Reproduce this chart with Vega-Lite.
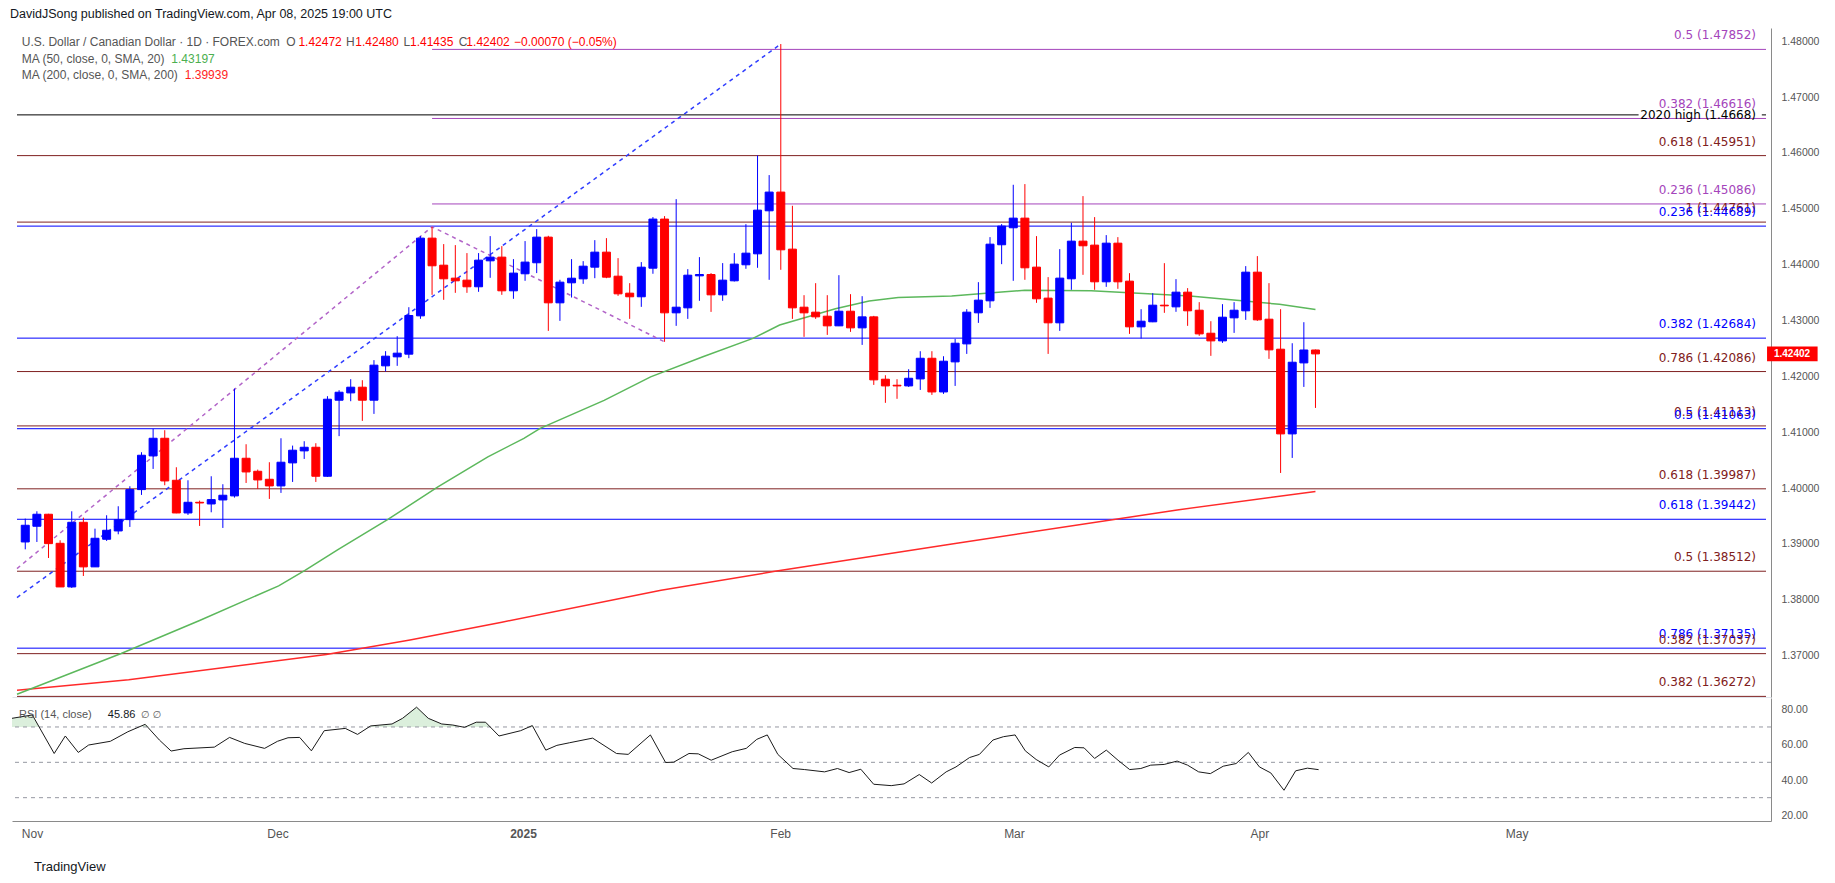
{
"$schema": "https://vega.github.io/schema/vega-lite/v6.json",
"background": "#ffffff",
"padding": {"left": 10, "top": 7, "right": 14, "bottom": 8},
"title": {"text": "DavidJSong published on TradingView.com, Apr 08, 2025 19:00 UTC", "anchor": "start", "font": "Liberation Sans", "fontSize": 12.5, "fontWeight": "normal", "color": "#131722", "offset": 8},
"config": {"view": {"stroke": null}, "axis": {"grid": false, "title": null}},
"spacing": 0,
"datasets": {
"candles": [
{"i":0,"o":1.39036,"h":1.39454,"l":1.38904,"c":1.39335},
{"i":1,"o":1.39317,"h":1.39585,"l":1.39036,"c":1.39532},
{"i":2,"o":1.39532,"h":1.3954,"l":1.38749,"c":1.39006},
{"i":3,"o":1.39012,"h":1.39066,"l":1.3823,"c":1.38231},
{"i":4,"o":1.38231,"h":1.39585,"l":1.38213,"c":1.39388},
{"i":5,"o":1.39388,"h":1.39472,"l":1.38427,"c":1.3859},
{"i":6,"o":1.3859,"h":1.39274,"l":1.38588,"c":1.39102},
{"i":7,"o":1.39084,"h":1.39514,"l":1.39054,"c":1.39245},
{"i":8,"o":1.39233,"h":1.39675,"l":1.39173,"c":1.39436},
{"i":9,"o":1.39436,"h":1.40033,"l":1.39305,"c":1.39973},
{"i":10,"o":1.39973,"h":1.40642,"l":1.39878,"c":1.40588},
{"i":11,"o":1.40576,"h":1.41059,"l":1.40343,"c":1.40892},
{"i":12,"o":1.40892,"h":1.41036,"l":1.40051,"c":1.40128},
{"i":13,"o":1.4014,"h":1.40373,"l":1.3955,"c":1.39555},
{"i":14,"o":1.39555,"h":1.4014,"l":1.3952,"c":1.39746},
{"i":15,"o":1.39746,"h":1.39776,"l":1.39323,"c":1.39734},
{"i":16,"o":1.39716,"h":1.40212,"l":1.39567,"c":1.39794},
{"i":17,"o":1.39788,"h":1.40069,"l":1.39287,"c":1.39872},
{"i":18,"o":1.3986,"h":1.41782,"l":1.3983,"c":1.40534},
{"i":19,"o":1.40534,"h":1.40785,"l":1.40092,"c":1.40289},
{"i":20,"o":1.40301,"h":1.40331,"l":1.39985,"c":1.40146},
{"i":21,"o":1.40158,"h":1.40463,"l":1.39806,"c":1.40039},
{"i":22,"o":1.40039,"h":1.40892,"l":1.39914,"c":1.40463},
{"i":23,"o":1.40451,"h":1.40761,"l":1.4011,"c":1.40678},
{"i":24,"o":1.40666,"h":1.40839,"l":1.40522,"c":1.40731},
{"i":25,"o":1.40731,"h":1.40803,"l":1.4011,"c":1.40212},
{"i":26,"o":1.40212,"h":1.41645,"l":1.402,"c":1.41591},
{"i":27,"o":1.41573,"h":1.41752,"l":1.4093,"c":1.41716},
{"i":28,"o":1.41704,"h":1.41949,"l":1.41555,"c":1.41806},
{"i":29,"o":1.41806,"h":1.41931,"l":1.41203,"c":1.41573},
{"i":30,"o":1.41573,"h":1.4229,"l":1.41328,"c":1.422},
{"i":31,"o":1.42188,"h":1.42451,"l":1.42087,"c":1.42361},
{"i":32,"o":1.42349,"h":1.42719,"l":1.42188,"c":1.42415},
{"i":33,"o":1.42397,"h":1.43238,"l":1.42325,"c":1.43089},
{"i":34,"o":1.43083,"h":1.4451,"l":1.4303,"c":1.44474},
{"i":35,"o":1.44474,"h":1.44677,"l":1.43459,"c":1.43979},
{"i":36,"o":1.4399,"h":1.44367,"l":1.4337,"c":1.43746},
{"i":37,"o":1.43758,"h":1.44349,"l":1.43495,"c":1.4371},
{"i":38,"o":1.43722,"h":1.44206,"l":1.43495,"c":1.43603},
{"i":39,"o":1.43603,"h":1.44206,"l":1.43513,"c":1.4408},
{"i":40,"o":1.44068,"h":1.4451,"l":1.43764,"c":1.44134},
{"i":41,"o":1.44134,"h":1.44331,"l":1.43459,"c":1.43531},
{"i":42,"o":1.43531,"h":1.44098,"l":1.43388,"c":1.43848},
{"i":43,"o":1.43836,"h":1.44421,"l":1.4371,"c":1.44045},
{"i":44,"o":1.44033,"h":1.44635,"l":1.43848,"c":1.44492},
{"i":45,"o":1.44492,"h":1.44516,"l":1.42814,"c":1.43316},
{"i":46,"o":1.43316,"h":1.43728,"l":1.42993,"c":1.43686},
{"i":47,"o":1.43674,"h":1.44098,"l":1.43411,"c":1.43757},
{"i":48,"o":1.43745,"h":1.44062,"l":1.43656,"c":1.43972},
{"i":49,"o":1.43954,"h":1.44438,"l":1.43757,"c":1.44223},
{"i":50,"o":1.44223,"h":1.44474,"l":1.43757,"c":1.43775},
{"i":51,"o":1.43793,"h":1.44116,"l":1.43441,"c":1.43477},
{"i":52,"o":1.43489,"h":1.43668,"l":1.43029,"c":1.43424},
{"i":53,"o":1.43424,"h":1.44045,"l":1.43244,"c":1.43954},
{"i":54,"o":1.43936,"h":1.44851,"l":1.43836,"c":1.44815},
{"i":55,"o":1.44815,"h":1.44868,"l":1.42618,"c":1.43137},
{"i":56,"o":1.43137,"h":1.45172,"l":1.42904,"c":1.43238},
{"i":57,"o":1.43226,"h":1.43919,"l":1.43029,"c":1.43811},
{"i":58,"o":1.43799,"h":1.44134,"l":1.43352,"c":1.43823},
{"i":59,"o":1.43823,"h":1.43848,"l":1.43154,"c":1.43459},
{"i":60,"o":1.43459,"h":1.44027,"l":1.43352,"c":1.43722},
{"i":61,"o":1.4371,"h":1.44205,"l":1.43698,"c":1.44009},
{"i":62,"o":1.43997,"h":1.44724,"l":1.43925,"c":1.44205},
{"i":63,"o":1.44193,"h":1.45954,"l":1.43943,"c":1.44975},
{"i":64,"o":1.44963,"h":1.45602,"l":1.43728,"c":1.45298},
{"i":65,"o":1.45298,"h":1.47948,"l":1.43907,"c":1.44265},
{"i":66,"o":1.44277,"h":1.45053,"l":1.43029,"c":1.43226},
{"i":67,"o":1.43238,"h":1.43453,"l":1.42707,"c":1.43137},
{"i":68,"o":1.43149,"h":1.43668,"l":1.43029,"c":1.43065},
{"i":69,"o":1.43077,"h":1.43453,"l":1.42742,"c":1.42904},
{"i":70,"o":1.42904,"h":1.43811,"l":1.429,"c":1.43166},
{"i":71,"o":1.43166,"h":1.43471,"l":1.42796,"c":1.42868},
{"i":72,"o":1.42868,"h":1.43435,"l":1.42563,"c":1.43065},
{"i":73,"o":1.43065,"h":1.43083,"l":1.41847,"c":1.41937},
{"i":74,"o":1.41949,"h":1.4202,"l":1.41526,"c":1.41829},
{"i":75,"o":1.41841,"h":1.41949,"l":1.41598,"c":1.41829},
{"i":76,"o":1.41829,"h":1.42128,"l":1.41811,"c":1.41966},
{"i":77,"o":1.41954,"h":1.4245,"l":1.41757,"c":1.42324},
{"i":78,"o":1.42324,"h":1.4245,"l":1.41668,"c":1.41721},
{"i":79,"o":1.41721,"h":1.4236,"l":1.41686,"c":1.42271},
{"i":80,"o":1.42259,"h":1.42671,"l":1.41829,"c":1.42593},
{"i":81,"o":1.42581,"h":1.43202,"l":1.42402,"c":1.43149},
{"i":82,"o":1.43137,"h":1.43686,"l":1.42957,"c":1.43364},
{"i":83,"o":1.43352,"h":1.44492,"l":1.43226,"c":1.44366},
{"i":84,"o":1.44355,"h":1.44725,"l":1.44008,"c":1.44689},
{"i":85,"o":1.44659,"h":1.45429,"l":1.4371,"c":1.44832},
{"i":86,"o":1.44832,"h":1.45441,"l":1.43728,"c":1.43943},
{"i":87,"o":1.43955,"h":1.4451,"l":1.43316,"c":1.43388},
{"i":88,"o":1.434,"h":1.43776,"l":1.42402,"c":1.42958},
{"i":89,"o":1.42958,"h":1.44277,"l":1.42814,"c":1.43758},
{"i":90,"o":1.43746,"h":1.44749,"l":1.43549,"c":1.4442},
{"i":91,"o":1.4442,"h":1.45226,"l":1.43817,"c":1.44337},
{"i":92,"o":1.44349,"h":1.4485,"l":1.43549,"c":1.43692},
{"i":93,"o":1.43692,"h":1.44528,"l":1.43602,"c":1.44384},
{"i":94,"o":1.44384,"h":1.44492,"l":1.43567,"c":1.43692},
{"i":95,"o":1.43704,"h":1.43847,"l":1.4276,"c":1.42886},
{"i":96,"o":1.42886,"h":1.43202,"l":1.42677,"c":1.42987},
{"i":97,"o":1.42976,"h":1.43489,"l":1.4297,"c":1.43274},
{"i":98,"o":1.43274,"h":1.44026,"l":1.43137,"c":1.43262},
{"i":99,"o":1.43244,"h":1.4374,"l":1.43155,"c":1.43507},
{"i":100,"o":1.43507,"h":1.43579,"l":1.42904,"c":1.43173},
{"i":101,"o":1.43184,"h":1.43328,"l":1.42725,"c":1.4276},
{"i":102,"o":1.42772,"h":1.42987,"l":1.42367,"c":1.42635},
{"i":103,"o":1.42635,"h":1.43292,"l":1.42599,"c":1.43059},
{"i":104,"o":1.43047,"h":1.43328,"l":1.42778,"c":1.43184},
{"i":105,"o":1.43173,"h":1.43973,"l":1.43011,"c":1.43865},
{"i":106,"o":1.43865,"h":1.44152,"l":1.42993,"c":1.43011},
{"i":107,"o":1.43023,"h":1.43668,"l":1.42313,"c":1.42474},
{"i":108,"o":1.42486,"h":1.43202,"l":1.40271,"c":1.4097},
{"i":109,"o":1.4097,"h":1.42593,"l":1.4054,"c":1.42253},
{"i":110,"o":1.42241,"h":1.42969,"l":1.41811,"c":1.42472},
{"i":111,"o":1.42472,"h":1.4248,"l":1.41435,"c":1.42402}
],
"levels": [
{"price":1.47852,"label":"0.5 (1.47852)","kind":"purple","from":35},
{"price":1.46616,"label":"0.382 (1.46616)","kind":"purple","from":35},
{"price":1.45951,"label":"0.618 (1.45951)","kind":"maroon","from":-0.71},
{"price":1.45086,"label":"0.236 (1.45086)","kind":"purple","from":35},
{"price":1.44761,"label":"1 (1.44761)","kind":"maroon","from":-0.71},
{"price":1.44689,"label":"0.236 (1.44689)","kind":"blue","from":-0.71},
{"price":1.42684,"label":"0.382 (1.42684)","kind":"blue","from":-0.71},
{"price":1.42086,"label":"0.786 (1.42086)","kind":"maroon","from":-0.71},
{"price":1.41113,"label":"0.5 (1.41113)","kind":"maroon","from":-0.71},
{"price":1.41063,"label":"0.5 (1.41063)","kind":"blue","from":-0.71},
{"price":1.39987,"label":"0.618 (1.39987)","kind":"maroon","from":-0.71},
{"price":1.39442,"label":"0.618 (1.39442)","kind":"blue","from":-0.71},
{"price":1.38512,"label":"0.5 (1.38512)","kind":"maroon","from":-0.71},
{"price":1.37135,"label":"0.786 (1.37135)","kind":"blue","from":-0.71},
{"price":1.37037,"label":"0.382 (1.37037)","kind":"maroon","from":-0.71},
{"price":1.36272,"label":"0.382 (1.36272)","kind":"maroon","from":-0.71}
],
"ma50": [
{"i":-0.71,"v":1.3631},{"i":8.25,"v":1.3704},{"i":15,"v":1.3763},{"i":21.8,"v":1.3825},{"i":24.1,"v":1.3853},{"i":26.9,"v":1.389},{"i":31.2,"v":1.3944},{"i":35.5,"v":1.4002},{"i":39.8,"v":1.4056},{"i":42.9,"v":1.4089},{"i":44.3,"v":1.4107},{"i":49.8,"v":1.4157},{"i":53.8,"v":1.4199},{"i":58.3,"v":1.4235},{"i":62.6,"v":1.4268},{"i":64.9,"v":1.4292},{"i":69.7,"v":1.4321},{"i":72.6,"v":1.4335},{"i":75.1,"v":1.4341},{"i":79.7,"v":1.4344},{"i":84,"v":1.4351},{"i":86,"v":1.4354},{"i":91.7,"v":1.4353},{"i":97.4,"v":1.4347},{"i":100.2,"v":1.4344},{"i":104.2,"v":1.4336},{"i":107.9,"v":1.4329},{"i":111,"v":1.43197}
],
"ma200": [
{"i":-0.71,"v":1.3638},{"i":8.9,"v":1.3657},{"i":25.9,"v":1.3702},{"i":33.1,"v":1.3728},{"i":41,"v":1.376},{"i":54.7,"v":1.3817},{"i":64.5,"v":1.3851},{"i":80,"v":1.3901},{"i":99.1,"v":1.3961},{"i":111,"v":1.39939}
],
"trendBlue": [{"i":-0.71,"p":1.38041},{"i":65,"p":1.47948}],
"trendPurple": [{"i":-0.71,"p":1.3856},{"i":35,"p":1.44677},{"i":55,"p":1.42618}],
"rsi": [
{"i":-0.71,"v":74.9},{"i":1.03,"v":76.8},{"i":2.9,"v":55.0},{"i":3.85,"v":64.9},{"i":4.96,"v":55.6},{"i":5.85,"v":59.8},{"i":7.7,"v":61.9},{"i":9.2,"v":67.3},{"i":10.68,"v":71.5},{"i":11.9,"v":62.6},{"i":12.9,"v":56.4},{"i":14.0,"v":57.7},{"i":16.6,"v":58.6},{"i":17.9,"v":64.1},{"i":19.2,"v":60.7},{"i":20.9,"v":57.9},{"i":22.0,"v":61.9},{"i":22.9,"v":63.9},{"i":23.9,"v":64.1},{"i":24.9,"v":56.5},{"i":26.0,"v":67.9},{"i":27.8,"v":69.2},{"i":28.85,"v":65.8},{"i":29.97,"v":70.6},{"i":31.8,"v":71.7},{"i":32.7,"v":74.9},{"i":33.9,"v":81.2},{"i":34.9,"v":74.9},{"i":36.05,"v":71.7},{"i":37.0,"v":71.1},{"i":38.0,"v":69.8},{"i":39.0,"v":72.7},{"i":39.8,"v":72.7},{"i":40.95,"v":64.9},{"i":42.8,"v":67.9},{"i":43.8,"v":70.8},{"i":44.95,"v":56.9},{"i":45.9,"v":59.6},{"i":47.0,"v":61.1},{"i":48.96,"v":63.7},{"i":51.0,"v":55.0},{"i":52.0,"v":54.5},{"i":53.9,"v":65.5},{"i":55.2,"v":49.9},{"i":55.9,"v":50.1},{"i":57.2,"v":55.0},{"i":58.0,"v":54.8},{"i":59.1,"v":51.2},{"i":60.9,"v":56.0},{"i":62.1,"v":57.9},{"i":63.0,"v":63.0},{"i":63.9,"v":65.5},{"i":64.8,"v":54.5},{"i":66.1,"v":46.5},{"i":67.1,"v":45.9},{"i":68.8,"v":44.6},{"i":69.9,"v":46.5},{"i":70.9,"v":44.2},{"i":71.9,"v":46.1},{"i":73.0,"v":37.6},{"i":74.5,"v":36.8},{"i":75.6,"v":37.8},{"i":76.9,"v":43.1},{"i":77.96,"v":38.3},{"i":79.2,"v":44.6},{"i":80.04,"v":47.4},{"i":81.2,"v":52.7},{"i":82.05,"v":54.5},{"i":83.2,"v":62.6},{"i":84.1,"v":64.5},{"i":85.1,"v":65.5},{"i":85.97,"v":56.5},{"i":86.9,"v":51.6},{"i":87.98,"v":47.4},{"i":88.9,"v":54.1},{"i":90.2,"v":58.4},{"i":91.0,"v":58.2},{"i":91.9,"v":52.2},{"i":92.9,"v":56.9},{"i":93.9,"v":51.2},{"i":94.9,"v":45.9},{"i":95.85,"v":46.5},{"i":96.7,"v":48.4},{"i":97.85,"v":48.8},{"i":98.96,"v":50.7},{"i":99.85,"v":48.4},{"i":100.8,"v":44.6},{"i":101.8,"v":43.6},{"i":102.9,"v":47.8},{"i":104.0,"v":49.3},{"i":105.05,"v":55.6},{"i":106.0,"v":47.4},{"i":106.97,"v":44.0},{"i":108.1,"v":34.2},{"i":109.1,"v":45.2},{"i":110.1,"v":46.7},{"i":111.06,"v":45.86}
],
"ob": [
{"seg":"a","i":-0.71,"v":74.9},{"seg":"a","i":1.03,"v":76.8},{"seg":"a","i":1.61,"v":70},
{"seg":"b","i":10.3,"v":70},{"seg":"b","i":10.68,"v":71.5},{"seg":"b","i":11.05,"v":70},
{"seg":"c","i":29.83,"v":70},{"seg":"c","i":29.97,"v":70.6},{"seg":"c","i":31.8,"v":71.7},{"seg":"c","i":32.7,"v":74.9},{"seg":"c","i":33.9,"v":81.2},{"seg":"c","i":34.9,"v":74.9},{"seg":"c","i":36.05,"v":71.7},{"seg":"c","i":37.0,"v":71.1},{"seg":"c","i":37.85,"v":70},
{"seg":"d","i":38.07,"v":70},{"seg":"d","i":39.0,"v":72.7},{"seg":"d","i":39.8,"v":72.7},{"seg":"d","i":40.2,"v":70},
{"seg":"e","i":43.52,"v":70},{"seg":"e","i":43.8,"v":70.8},{"seg":"e","i":43.87,"v":70}
]
},
"vconcat": [
{
"width": 1759,
"height": 669,
"layer": [
{"data": {"name": "levels"}, "mark": {"type": "rule", "strokeWidth": 1},
 "encoding": {
  "x": {"field": "from", "type": "quantitative", "title": null, "scale": {"domain": [-0.71, 149.76], "nice": false, "zero": false}, "axis": {"labels": false, "ticks": false, "domainColor": "#e0e3eb", "title": null, "grid": false}},
  "x2": {"datum": 149.76},
  "y": {"field": "price", "type": "quantitative", "title": null, "scale": {"domain": [1.36261, 1.48235], "nice": false, "zero": false}, "axis": {"orient": "right", "values": [1.37, 1.38, 1.39, 1.4, 1.41, 1.42, 1.43, 1.44, 1.45, 1.46, 1.47, 1.48], "format": ".5f", "labelFont": "Liberation Sans", "labelFontSize": 10.5, "labelColor": "#555555", "ticks": false, "labelPadding": 10, "domainColor": "#8a8a8a", "title": null, "grid": false}},
  "color": {"field": "kind", "type": "nominal", "scale": {"domain": ["purple", "maroon", "blue"], "range": ["#a444bb", "#7f2020", "#0000ff"]}, "legend": null}
 }},
{"data": {"values": [{"a": -0.71, "b": 138.8}, {"a": 149.4, "b": 149.76}]}, "mark": {"type": "rule", "color": "#000000", "strokeWidth": 1},
 "encoding": {
  "x": {"field": "a", "type": "quantitative", "title": null, "scale": {"domain": [-0.71, 149.76], "nice": false, "zero": false}},
  "x2": {"field": "b"},
  "y": {"datum": 1.4668, "type": "quantitative", "title": null, "scale": {"domain": [1.36261, 1.48235], "nice": false, "zero": false}}
 }},
{"data": {"name": "trendBlue"}, "mark": {"type": "line", "color": "#2f3dff", "strokeWidth": 1.5, "strokeDash": [4, 4]},
 "encoding": {
  "x": {"field": "i", "type": "quantitative", "title": null, "scale": {"domain": [-0.71, 149.76], "nice": false, "zero": false}},
  "y": {"field": "p", "type": "quantitative", "title": null, "scale": {"domain": [1.36261, 1.48235], "nice": false, "zero": false}}
 }},
{"data": {"name": "trendPurple"}, "mark": {"type": "line", "color": "#b264c8", "strokeWidth": 1.5, "strokeDash": [4, 4]},
 "encoding": {
  "x": {"field": "i", "type": "quantitative", "title": null, "scale": {"domain": [-0.71, 149.76], "nice": false, "zero": false}},
  "y": {"field": "p", "type": "quantitative", "title": null, "scale": {"domain": [1.36261, 1.48235], "nice": false, "zero": false}}
 }},
{"data": {"name": "ma200"}, "mark": {"type": "line", "color": "#ff2a2a", "strokeWidth": 1.5},
 "encoding": {
  "x": {"field": "i", "type": "quantitative", "title": null, "scale": {"domain": [-0.71, 149.76], "nice": false, "zero": false}},
  "y": {"field": "v", "type": "quantitative", "title": null, "scale": {"domain": [1.36261, 1.48235], "nice": false, "zero": false}}
 }},
{"data": {"name": "ma50"}, "mark": {"type": "line", "color": "#5cb85c", "strokeWidth": 1.5},
 "encoding": {
  "x": {"field": "i", "type": "quantitative", "title": null, "scale": {"domain": [-0.71, 149.76], "nice": false, "zero": false}},
  "y": {"field": "v", "type": "quantitative", "title": null, "scale": {"domain": [1.36261, 1.48235], "nice": false, "zero": false}}
 }},
{"data": {"name": "candles"}, "mark": {"type": "rule", "strokeWidth": 1},
 "encoding": {
  "x": {"field": "i", "type": "quantitative", "title": null, "scale": {"domain": [-0.71, 149.76], "nice": false, "zero": false}},
  "y": {"field": "l", "type": "quantitative", "title": null, "scale": {"domain": [1.36261, 1.48235], "nice": false, "zero": false}},
  "y2": {"field": "h"},
  "color": {"condition": {"test": "datum.c >= datum.o", "value": "#0000ff"}, "value": "#ff0000"}
 }},
{"data": {"name": "candles"}, "mark": {"type": "bar", "size": 8, "strokeWidth": 1},
 "encoding": {
  "x": {"field": "i", "type": "quantitative", "title": null, "scale": {"domain": [-0.71, 149.76], "nice": false, "zero": false}},
  "y": {"field": "o", "type": "quantitative", "title": null, "scale": {"domain": [1.36261, 1.48235], "nice": false, "zero": false}},
  "y2": {"field": "c"},
  "color": {"condition": {"test": "datum.c >= datum.o", "value": "#0000ff"}, "value": "#ff0000"},
  "stroke": {"condition": {"test": "datum.c >= datum.o", "value": "#0000ff"}, "value": "#ff0000"}
 }},
{"data": {"name": "levels"}, "mark": {"type": "text", "align": "right", "baseline": "middle", "dy": -14, "font": "DejaVu Sans", "fontSize": 12},
 "encoding": {
  "x": {"datum": 148.9, "type": "quantitative", "title": null, "scale": {"domain": [-0.71, 149.76], "nice": false, "zero": false}},
  "y": {"field": "price", "type": "quantitative", "title": null, "scale": {"domain": [1.36261, 1.48235], "nice": false, "zero": false}},
  "text": {"field": "label"},
  "color": {"field": "kind", "type": "nominal", "scale": {"domain": ["purple", "maroon", "blue"], "range": ["#a444bb", "#7f2020", "#0000ff"]}, "legend": null}
 }},
{"data": {"values": [{}]}, "mark": {"type": "text", "text": "2020 high (1.4668)", "align": "right", "baseline": "middle", "font": "DejaVu Sans", "fontSize": 12, "color": "#000000"},
 "encoding": {
  "x": {"datum": 148.9, "type": "quantitative", "title": null, "scale": {"domain": [-0.71, 149.76], "nice": false, "zero": false}},
  "y": {"datum": 1.4668, "type": "quantitative", "title": null, "scale": {"domain": [1.36261, 1.48235], "nice": false, "zero": false}}
 }},
{"data": {"values": [{}]}, "mark": {"type": "text", "text": "U.S. Dollar / Canadian Dollar · 1D · FOREX.com", "align": "left", "baseline": "middle", "font": "Liberation Sans", "fontSize": 12, "color": "#555555"},
 "encoding": {"x": {"datum": -0.3, "type": "quantitative", "title": null, "scale": {"domain": [-0.71, 149.76], "nice": false, "zero": false}}, "y": {"datum": 1.47984, "type": "quantitative", "title": null, "scale": {"domain": [1.36261, 1.48235], "nice": false, "zero": false}}}},
{"data": {"values": [{}]}, "mark": {"type": "text", "text": "O", "align": "left", "baseline": "middle", "font": "Liberation Sans", "fontSize": 12, "color": "#555555"},
 "encoding": {"x": {"datum": 22.45, "type": "quantitative", "title": null, "scale": {"domain": [-0.71, 149.76], "nice": false, "zero": false}}, "y": {"datum": 1.47984, "type": "quantitative", "title": null, "scale": {"domain": [1.36261, 1.48235], "nice": false, "zero": false}}}},
{"data": {"values": [{}]}, "mark": {"type": "text", "text": "1.42472", "align": "left", "baseline": "middle", "font": "Liberation Sans", "fontSize": 12, "color": "#ff0000"},
 "encoding": {"x": {"datum": 23.5, "type": "quantitative", "title": null, "scale": {"domain": [-0.71, 149.76], "nice": false, "zero": false}}, "y": {"datum": 1.47984, "type": "quantitative", "title": null, "scale": {"domain": [1.36261, 1.48235], "nice": false, "zero": false}}}},
{"data": {"values": [{}]}, "mark": {"type": "text", "text": "H", "align": "left", "baseline": "middle", "font": "Liberation Sans", "fontSize": 12, "color": "#555555"},
 "encoding": {"x": {"datum": 27.6, "type": "quantitative", "title": null, "scale": {"domain": [-0.71, 149.76], "nice": false, "zero": false}}, "y": {"datum": 1.47984, "type": "quantitative", "title": null, "scale": {"domain": [1.36261, 1.48235], "nice": false, "zero": false}}}},
{"data": {"values": [{}]}, "mark": {"type": "text", "text": "1.42480", "align": "left", "baseline": "middle", "font": "Liberation Sans", "fontSize": 12, "color": "#ff0000"},
 "encoding": {"x": {"datum": 28.4, "type": "quantitative", "title": null, "scale": {"domain": [-0.71, 149.76], "nice": false, "zero": false}}, "y": {"datum": 1.47984, "type": "quantitative", "title": null, "scale": {"domain": [1.36261, 1.48235], "nice": false, "zero": false}}}},
{"data": {"values": [{}]}, "mark": {"type": "text", "text": "L", "align": "left", "baseline": "middle", "font": "Liberation Sans", "fontSize": 12, "color": "#555555"},
 "encoding": {"x": {"datum": 32.55, "type": "quantitative", "title": null, "scale": {"domain": [-0.71, 149.76], "nice": false, "zero": false}}, "y": {"datum": 1.47984, "type": "quantitative", "title": null, "scale": {"domain": [1.36261, 1.48235], "nice": false, "zero": false}}}},
{"data": {"values": [{}]}, "mark": {"type": "text", "text": "1.41435", "align": "left", "baseline": "middle", "font": "Liberation Sans", "fontSize": 12, "color": "#ff0000"},
 "encoding": {"x": {"datum": 33.1, "type": "quantitative", "title": null, "scale": {"domain": [-0.71, 149.76], "nice": false, "zero": false}}, "y": {"datum": 1.47984, "type": "quantitative", "title": null, "scale": {"domain": [1.36261, 1.48235], "nice": false, "zero": false}}}},
{"data": {"values": [{}]}, "mark": {"type": "text", "text": "C", "align": "left", "baseline": "middle", "font": "Liberation Sans", "fontSize": 12, "color": "#555555"},
 "encoding": {"x": {"datum": 37.3, "type": "quantitative", "title": null, "scale": {"domain": [-0.71, 149.76], "nice": false, "zero": false}}, "y": {"datum": 1.47984, "type": "quantitative", "title": null, "scale": {"domain": [1.36261, 1.48235], "nice": false, "zero": false}}}},
{"data": {"values": [{}]}, "mark": {"type": "text", "text": "1.42402", "align": "left", "baseline": "middle", "font": "Liberation Sans", "fontSize": 12, "color": "#ff0000"},
 "encoding": {"x": {"datum": 37.95, "type": "quantitative", "title": null, "scale": {"domain": [-0.71, 149.76], "nice": false, "zero": false}}, "y": {"datum": 1.47984, "type": "quantitative", "title": null, "scale": {"domain": [1.36261, 1.48235], "nice": false, "zero": false}}}},
{"data": {"values": [{}]}, "mark": {"type": "text", "text": "−0.00070 (−0.05%)", "align": "left", "baseline": "middle", "font": "Liberation Sans", "fontSize": 12, "color": "#ff0000"},
 "encoding": {"x": {"datum": 42.05, "type": "quantitative", "title": null, "scale": {"domain": [-0.71, 149.76], "nice": false, "zero": false}}, "y": {"datum": 1.47984, "type": "quantitative", "title": null, "scale": {"domain": [1.36261, 1.48235], "nice": false, "zero": false}}}},
{"data": {"values": [{}]}, "mark": {"type": "text", "text": "MA (50, close, 0, SMA, 20)", "align": "left", "baseline": "middle", "font": "Liberation Sans", "fontSize": 12, "color": "#555555"},
 "encoding": {"x": {"datum": -0.3, "type": "quantitative", "title": null, "scale": {"domain": [-0.71, 149.76], "nice": false, "zero": false}}, "y": {"datum": 1.4768, "type": "quantitative", "title": null, "scale": {"domain": [1.36261, 1.48235], "nice": false, "zero": false}}}},
{"data": {"values": [{}]}, "mark": {"type": "text", "text": "1.43197", "align": "left", "baseline": "middle", "font": "Liberation Sans", "fontSize": 12, "color": "#4caf50"},
 "encoding": {"x": {"datum": 12.57, "type": "quantitative", "title": null, "scale": {"domain": [-0.71, 149.76], "nice": false, "zero": false}}, "y": {"datum": 1.4768, "type": "quantitative", "title": null, "scale": {"domain": [1.36261, 1.48235], "nice": false, "zero": false}}}},
{"data": {"values": [{}]}, "mark": {"type": "text", "text": "MA (200, close, 0, SMA, 200)", "align": "left", "baseline": "middle", "font": "Liberation Sans", "fontSize": 12, "color": "#555555"},
 "encoding": {"x": {"datum": -0.3, "type": "quantitative", "title": null, "scale": {"domain": [-0.71, 149.76], "nice": false, "zero": false}}, "y": {"datum": 1.47393, "type": "quantitative", "title": null, "scale": {"domain": [1.36261, 1.48235], "nice": false, "zero": false}}}},
{"data": {"values": [{}]}, "mark": {"type": "text", "text": "1.39939", "align": "left", "baseline": "middle", "font": "Liberation Sans", "fontSize": 12, "color": "#ff1e1e"},
 "encoding": {"x": {"datum": 13.72, "type": "quantitative", "title": null, "scale": {"domain": [-0.71, 149.76], "nice": false, "zero": false}}, "y": {"datum": 1.47393, "type": "quantitative", "title": null, "scale": {"domain": [1.36261, 1.48235], "nice": false, "zero": false}}}},
{"data": {"values": [{}]}, "mark": {"type": "rect", "color": "#ff0000"},
 "encoding": {
  "x": {"datum": 149.85, "type": "quantitative", "title": null, "scale": {"domain": [-0.71, 149.76], "nice": false, "zero": false}},
  "x2": {"datum": 154.2},
  "y": {"datum": 1.42533, "type": "quantitative", "title": null, "scale": {"domain": [1.36261, 1.48235], "nice": false, "zero": false}},
  "y2": {"datum": 1.42271}
 }},
{"data": {"values": [{}]}, "mark": {"type": "text", "text": "1.42402", "align": "center", "baseline": "middle", "font": "Liberation Sans", "fontSize": 10, "fontWeight": "bold", "color": "#ffffff"},
 "encoding": {"x": {"datum": 152.0, "type": "quantitative", "title": null, "scale": {"domain": [-0.71, 149.76], "nice": false, "zero": false}}, "y": {"datum": 1.42402, "type": "quantitative", "title": null, "scale": {"domain": [1.36261, 1.48235], "nice": false, "zero": false}}}}
]
},
{
"width": 1759,
"height": 123,
"layer": [
{"data": {"name": "ob"}, "mark": {"type": "area", "color": "#4caf50", "opacity": 0.2},
 "encoding": {
  "x": {"field": "i", "type": "quantitative", "title": null, "scale": {"domain": [-0.71, 149.76], "nice": false, "zero": false},
   "axis": {"orient": "bottom", "values": [1, 22, 43, 65, 85, 106, 128], "labelExpr": "datum.value == 1 ? 'Nov' : datum.value == 22 ? 'Dec' : datum.value == 43 ? '2025' : datum.value == 65 ? 'Feb' : datum.value == 85 ? 'Mar' : datum.value == 106 ? 'Apr' : 'May'", "ticks": false, "labelPadding": 7, "labelFont": "Liberation Sans", "labelFontSize": 12, "labelColor": "#555555", "labelFontWeight": {"condition": {"test": "datum.value == 43", "value": "bold"}, "value": "normal"}, "domainColor": "#8a8a8a", "labelFlush": false, "labelOverlap": false, "title": null, "grid": false}},
  "y": {"field": "v", "type": "quantitative", "title": null, "scale": {"domain": [16.8, 86.4], "nice": false, "zero": false}, "axis": {"orient": "right", "values": [20, 40, 60, 80], "format": ".2f", "labelFont": "Liberation Sans", "labelFontSize": 10.5, "labelColor": "#555555", "ticks": false, "labelPadding": 10, "domainColor": "#8a8a8a", "title": null, "grid": false}},
  "y2": {"datum": 70},
  "detail": {"field": "seg"}
 }},
{"data": {"values": [{"v": 70}, {"v": 50}, {"v": 30}]}, "mark": {"type": "rule", "color": "#9598a1", "strokeDash": [4, 4], "strokeWidth": 1},
 "encoding": {
  "y": {"field": "v", "type": "quantitative", "title": null, "scale": {"domain": [16.8, 86.4], "nice": false, "zero": false}}
 }},
{"data": {"name": "rsi"}, "mark": {"type": "line", "color": "#1a1a1a", "strokeWidth": 1},
 "encoding": {
  "x": {"field": "i", "type": "quantitative", "title": null, "scale": {"domain": [-0.71, 149.76], "nice": false, "zero": false}},
  "y": {"field": "v", "type": "quantitative", "title": null, "scale": {"domain": [16.8, 86.4], "nice": false, "zero": false}}
 }},
{"data": {"values": [{}]}, "mark": {"type": "text", "text": "RSI (14, close)", "align": "left", "baseline": "middle", "font": "Liberation Sans", "fontSize": 11, "color": "#555555"},
 "encoding": {"x": {"datum": -0.11, "type": "quantitative", "title": null, "scale": {"domain": [-0.71, 149.76], "nice": false, "zero": false}}, "y": {"datum": 76.8, "type": "quantitative", "title": null, "scale": {"domain": [16.8, 86.4], "nice": false, "zero": false}}}},
{"data": {"values": [{}]}, "mark": {"type": "text", "text": "45.86", "align": "left", "baseline": "middle", "font": "Liberation Sans", "fontSize": 11, "color": "#131722"},
 "encoding": {"x": {"datum": 7.49, "type": "quantitative", "title": null, "scale": {"domain": [-0.71, 149.76], "nice": false, "zero": false}}, "y": {"datum": 76.8, "type": "quantitative", "title": null, "scale": {"domain": [16.8, 86.4], "nice": false, "zero": false}}}},
{"data": {"values": [{}]}, "mark": {"type": "text", "text": "∅  ∅", "align": "left", "baseline": "middle", "font": "DejaVu Sans", "fontSize": 10, "color": "#555555"},
 "encoding": {"x": {"datum": 10.3, "type": "quantitative", "title": null, "scale": {"domain": [-0.71, 149.76], "nice": false, "zero": false}}, "y": {"datum": 76.8, "type": "quantitative", "title": null, "scale": {"domain": [16.8, 86.4], "nice": false, "zero": false}}}},
{"data": {"values": [{}]}, "mark": {"type": "text", "text": "TradingView", "align": "left", "baseline": "middle", "font": "Liberation Sans", "fontSize": 13, "color": "#131722"},
 "encoding": {"x": {"datum": 1.17, "type": "quantitative", "title": null, "scale": {"domain": [-0.71, 149.76], "nice": false, "zero": false}}, "y": {"datum": -9.07, "type": "quantitative", "title": null, "scale": {"domain": [16.8, 86.4], "nice": false, "zero": false}}}}
]
}
]
}
